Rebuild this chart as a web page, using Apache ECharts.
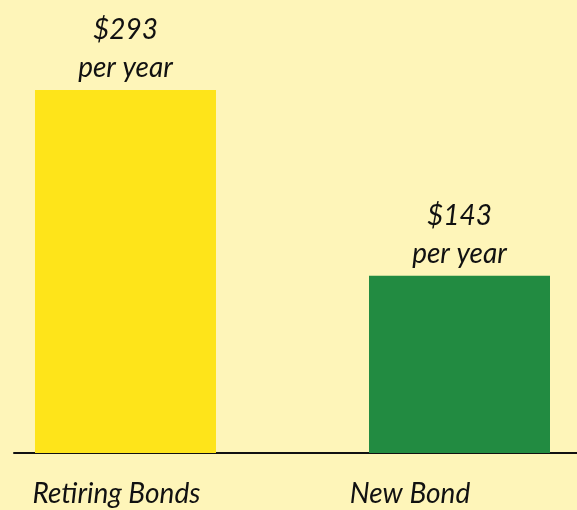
<!DOCTYPE html>
<html>
<head>
<meta charset="utf-8">
<script src="https://cdn.jsdelivr.net/npm/echarts@6/dist/echarts.min.js"></script>
<style>
  html, body { margin: 0; padding: 0; background: #fef5b9; }
  #main { width: 577px; height: 510px; }
</style>
</head>
<body>
<div id="main"></div>
<script>
var categories = ['Retiring Bonds', 'New Bond'];
var costs = [293, 143];
var barColors = ['#fee41a', '#228b41'];

var chart = echarts.init(document.getElementById('main'));
var font = 'Lato';

// bars sit on a value x axis so their spacing can match the original
var option = {
  backgroundColor: '#fef5b9',
  animation: false,
  grid: { left: 14, right: 0, top: 90, bottom: 57 },
  xAxis: {
    type: 'value',
    min: -0.3338,
    max: 1.3518,
    splitLine: { show: false },
    axisLine: { show: true, lineStyle: { color: '#111', width: 2 } },
    axisTick: { show: false },
    axisLabel: {
      customValues: [0, 1],
      margin: 27,
      formatter: function (v) {
        var name = categories[Math.round(v)];
        return v < 0.5 ? '{a|' + name + '}' : '{b|' + name + '}';
      },
      rich: {
        a: { fontFamily: font, fontStyle: 'italic', fontSize: 28, color: '#111', padding: [0, 18, 0, 0] },
        b: { fontFamily: font, fontStyle: 'italic', fontSize: 28, color: '#111', padding: [0, 99, 0, 0] }
      }
    }
  },
  yAxis: {
    type: 'value',
    min: 0,
    max: 293,
    show: false,
    splitLine: { show: false }
  },
  series: [{
    type: 'bar',
    barWidth: 181,
    data: costs.map(function (v, i) {
      return { value: [i, v], itemStyle: { color: barColors[i] } };
    }),
    label: {
      show: true,
      position: 'top',
      distance: 3,
      fontFamily: font,
      fontStyle: 'italic',
      fontSize: 28,
      lineHeight: 38,
      color: '#111',
      formatter: function (p) { return '$' + p.value[1] + '\nper year'; }
    }
  }]
};
chart.setOption(option);
</script>
</body>
</html>
